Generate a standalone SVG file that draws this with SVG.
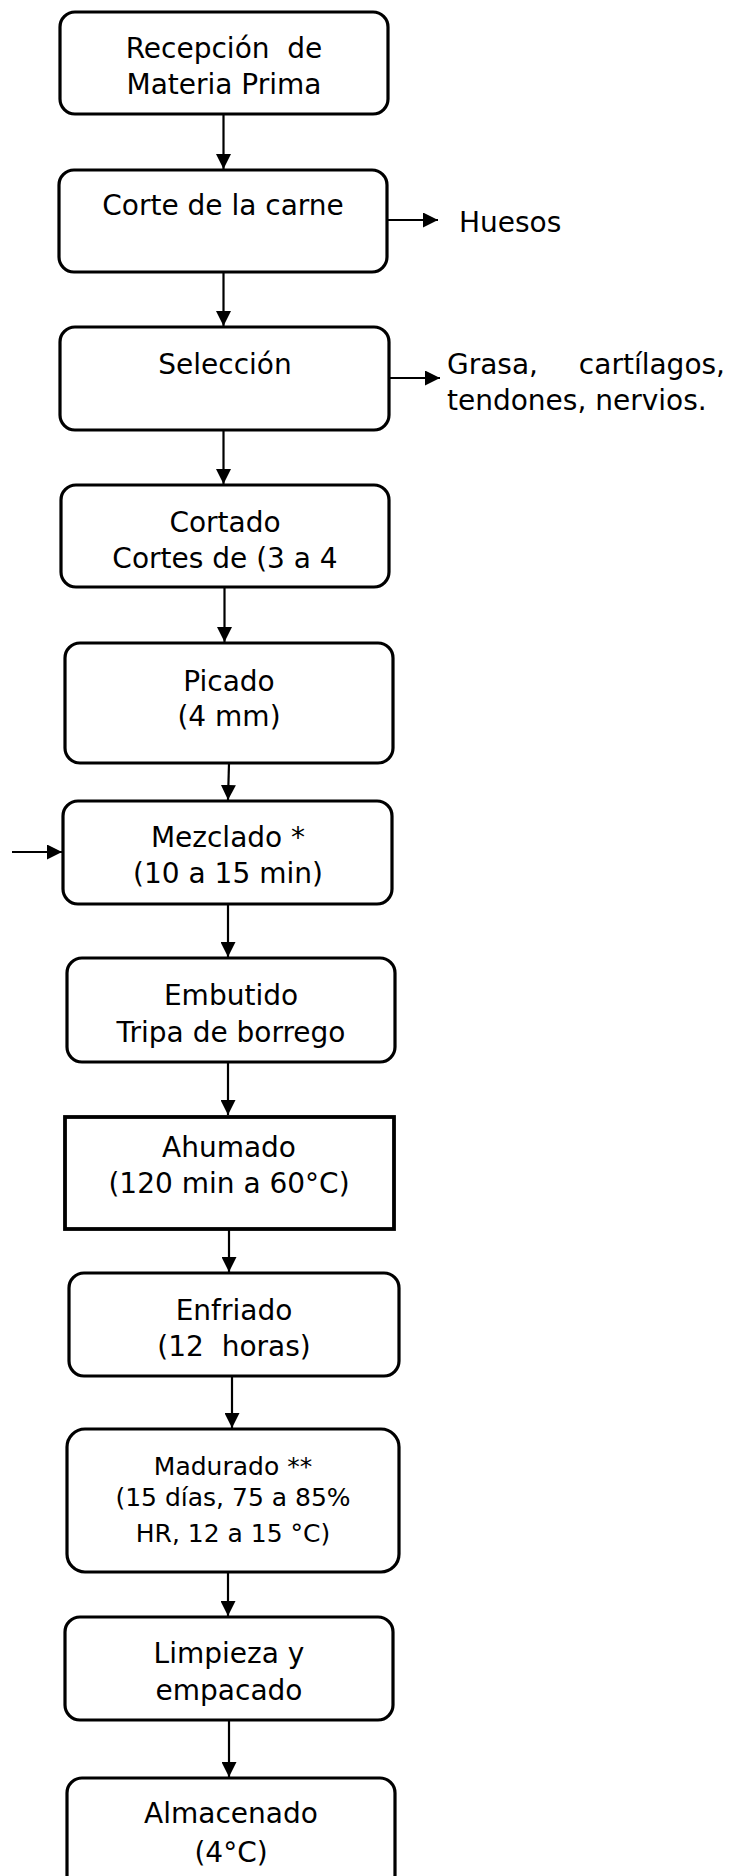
<svg xmlns="http://www.w3.org/2000/svg" width="734" height="1876" viewBox="0 0 734 1876">
<defs>
<style>
.box{fill:#fff;stroke:#000;stroke-width:3.2}
.sq{fill:#fff;stroke:#000;stroke-width:3.8}
.t{font-family:"DejaVu Sans",sans-serif;font-size:28px;fill:#000;text-anchor:middle;white-space:pre}
.s{font-family:"DejaVu Sans",sans-serif;font-size:28px;fill:#000;white-space:pre}
.m{font-size:25px}
.c{fill:none;stroke:#000;stroke-width:2.2}
</style>
<marker id="ah" viewBox="0 0 15 15" refX="15" refY="7.5" markerWidth="15" markerHeight="15" markerUnits="userSpaceOnUse" orient="auto"><path d="M0,0 L15,7.5 L0,15 z" fill="#000"/></marker>
</defs>
<rect width="734" height="1876" fill="#fff"/>
<g id="connectors">
<line class="c" x1="223.5" y1="114" x2="223.5" y2="169" marker-end="url(#ah)"/>
<line class="c" x1="223.5" y1="272" x2="223.5" y2="326" marker-end="url(#ah)"/>
<line class="c" x1="223.5" y1="430" x2="223.5" y2="484" marker-end="url(#ah)"/>
<line class="c" x1="224.5" y1="587" x2="224.5" y2="642" marker-end="url(#ah)"/>
<line class="c" x1="229" y1="763" x2="228" y2="800" marker-end="url(#ah)"/>
<line class="c" x1="228" y1="904" x2="228" y2="957" marker-end="url(#ah)"/>
<line class="c" x1="228" y1="1062" x2="228" y2="1115" marker-end="url(#ah)"/>
<line class="c" x1="229" y1="1229" x2="229" y2="1272" marker-end="url(#ah)"/>
<line class="c" x1="232" y1="1376" x2="232" y2="1428" marker-end="url(#ah)"/>
<line class="c" x1="228" y1="1563" x2="228" y2="1616" marker-end="url(#ah)"/>
<line class="c" x1="229" y1="1720" x2="229" y2="1777" marker-end="url(#ah)"/>
<line class="c" x1="387" y1="220" x2="438" y2="220" marker-end="url(#ah)"/>
<line class="c" x1="389" y1="378" x2="440" y2="378" marker-end="url(#ah)"/>
<line class="c" x1="12" y1="852" x2="62" y2="852" marker-end="url(#ah)"/>
</g>
<g id="n1"><rect class="box" x="60" y="12" width="328" height="102" rx="15"/>
<text class="t" x="224" y="58">Recepción  de</text><text class="t" x="224" y="94">Materia Prima</text></g>
<g id="n2"><rect class="box" x="59" y="170" width="328" height="102" rx="15"/>
<text class="t" x="223" y="215">Corte de la carne</text></g>
<g id="n3"><rect class="box" x="60" y="327" width="329" height="103" rx="15"/>
<text class="t" x="225" y="374">Selección</text></g>
<g id="n4"><rect class="box" x="61" y="485" width="328" height="102" rx="15"/>
<text class="t" x="225" y="532">Cortado</text><text class="t" x="225" y="568">Cortes de (3 a 4</text></g>
<g id="n5"><rect class="box" x="65" y="643" width="328" height="120" rx="15"/>
<text class="t" x="229" y="691">Picado</text><text class="t" x="229" y="726">(4 mm)</text></g>
<g id="n6"><rect class="box" x="63" y="801" width="329" height="103" rx="15"/>
<text class="t" x="228" y="847">Mezclado *</text><text class="t" x="228" y="883">(10 a 15 min)</text></g>
<g id="n7"><rect class="box" x="67" y="958" width="328" height="104" rx="15"/>
<text class="t" x="231" y="1005">Embutido</text><text class="t" x="231" y="1042">Tripa de borrego</text></g>
<g id="n8"><rect class="sq" x="65" y="1117" width="329" height="112"/>
<text class="t" x="229" y="1157">Ahumado</text><text class="t" x="229" y="1193">(120 min a 60°C)</text></g>
<g id="n9"><rect class="box" x="69" y="1273" width="330" height="103" rx="15"/>
<text class="t" x="234" y="1320">Enfriado</text><text class="t" x="234" y="1356">(12  horas)</text></g>
<g id="n10"><rect class="box" x="67" y="1429" width="332" height="143" rx="18"/>
<text class="t m" x="233" y="1475">Madurado **</text><text class="t m" x="233" y="1506">(15 días, 75 a 85%</text><text class="t m" x="233" y="1542">HR, 12 a 15 °C)</text></g>
<g id="n11"><rect class="box" x="65" y="1617" width="328" height="103" rx="15"/>
<text class="t" x="229" y="1663">Limpieza y</text><text class="t" x="229" y="1700">empacado</text></g>
<g id="n12"><rect class="box" x="67" y="1778" width="328" height="112" rx="15"/>
<text class="t" x="231" y="1823">Almacenado</text><text class="t" x="231" y="1862">(4°C)</text></g>
<g id="side">
<text class="s" x="459" y="232">Huesos</text>
<text class="s" x="447" y="374">Grasa,</text>
<text class="s" x="725" y="374" text-anchor="end">cartílagos,</text>
<text class="s" x="447" y="410">tendones, nervios.</text>
</g>
</svg>
